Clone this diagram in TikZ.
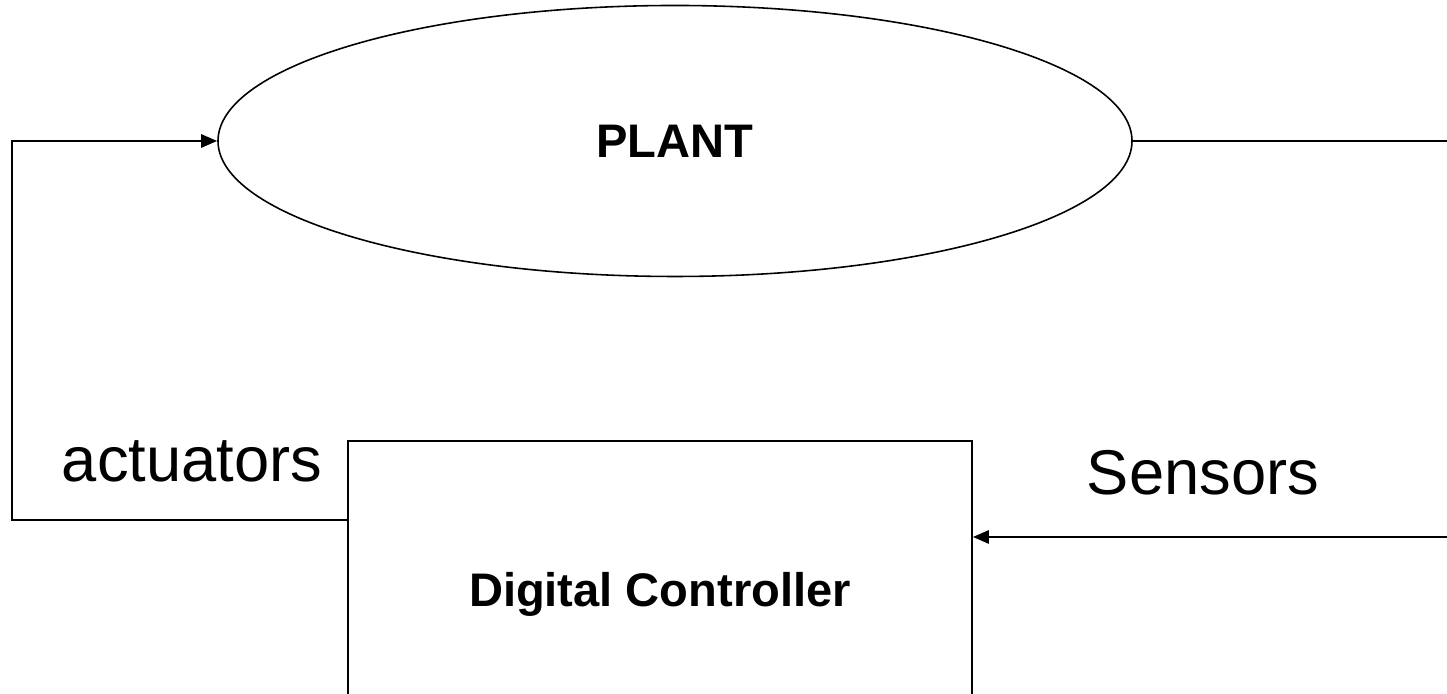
\documentclass[tikz,border=0pt]{standalone}
\usepackage{fontspec}
\setmainfont{Liberation Sans}
\usetikzlibrary{shapes.geometric,arrows.meta}

\tikzset{
  link/.style={line width=0.75pt, -{Triangle[length=1.6mm,width=1.3mm]}},
  plainlink/.style={line width=0.75pt},
  bigtext/.style={font=\fontsize{18}{22}\selectfont},
  boldtext/.style={font=\fontsize{13.4}{16}\selectfont\bfseries}
}

\begin{document}
\begin{tikzpicture}[black, line width=0.45pt]
    \newcommand\XL{0.12}
    \newcommand\XR{14.5}
    \newcommand\YA{1.74}
    \newcommand\YS{1.57}
    \useasboundingbox (0,0) rectangle (14.47,6.94);
    \node[ellipse, draw, minimum width=9.14cm, minimum height=2.71cm, boldtext] (P) at (6.75, 5.53){PLANT};
    \node[rectangle, draw, minimum width=6.24cm, minimum height=3.06cm, boldtext] (C) at (6.6, 1.0){Digital Controller};
    \node[bigtext] (Act) at (1.92, 2.33){actuators};
    \node[bigtext] (Sen) at (12.03, 2.21){Sensors};
    \coordinate (A0) at (\XL, \YA);
    \coordinate (A1) at (\XL, 5.53);
    \coordinate (S0) at (\XR, 5.53);
    \coordinate (S1) at (\XR, \YS);
    \draw[link] (C.west |- A0) -- (A0) -- (A1) -- (P.west);
    \draw[plainlink] (P.east) -- (S0);
    \draw[link] (S1) -- (S1 -| C.east);
  \end{tikzpicture}
\end{document}
